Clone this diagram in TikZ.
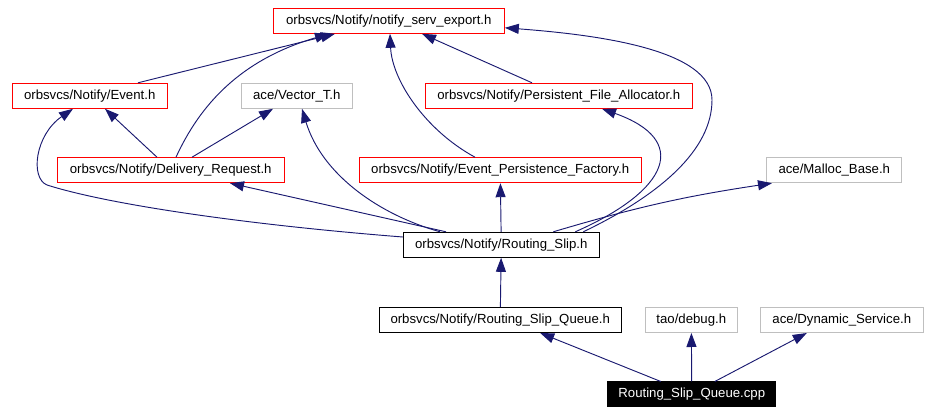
\documentclass[tikz,border=0pt]{standalone}
\usepackage{fontspec}
\setmainfont{Liberation Sans}
\usepackage{xcolor}
\definecolor{midnight}{HTML}{191970}
\definecolor{boxred}{HTML}{FF0000}
\definecolor{boxgray}{HTML}{BFBFBF}
\usepackage{tikz}
\usetikzlibrary{positioning,calc,arrows.meta}
\tikzstyle{headerfile}=[rectangle, draw=black, line width=0.75pt, inner xsep=2pt, inner ysep=0pt,
        minimum height=18.75pt, text=black, font=\fontsize{9.9pt}{12pt}\selectfont]
\tikzstyle{projectfile}=[headerfile, draw=boxred]
\tikzstyle{externfile}=[headerfile, draw=boxgray]
\tikzstyle{sourcefile}=[headerfile, fill=black, text=white]
\tikzstyle{includeLine}=[draw=midnight, line width=0.7pt, -{Triangle[length=10.5pt,width=7.5pt]}]

\begin{document}
\begin{tikzpicture}[x=0.75pt, y=-0.75pt]
\useasboundingbox (0,0) rectangle (929,413);

\node (export) [projectfile, minimum width=173.25pt] at (388.8,20.8) {orbsvcs/Notify/notify\_serv\_export.h};
\node (Event) [projectfile, minimum width=116pt] at (89.7,95.8) {orbsvcs/Notify/Event.h};
\node (Vector) [externfile, minimum width=83.25pt] at (296.8,95.8) {ace/Vector\_T.h};
\node (Allocator) [projectfile, minimum width=200.25pt] at (558.8,95.8) {orbsvcs/Notify/Persistent\_File\_Allocator.h};
\node (Delivery) [projectfile, minimum width=170pt] at (170.7,170.2) {orbsvcs/Notify/Delivery\_Request.h};
\node (Factory) [projectfile, minimum width=211.7pt] at (500.2,170.2) {orbsvcs/Notify/Event\_Persistence\_Factory.h};
\node (Malloc) [externfile, minimum width=101pt] at (834.3,170.2) {ace/Malloc\_Base.h};
\node (Slip) [headerfile, minimum width=147pt] at (501.3,244.8) {orbsvcs/Notify/Routing\_Slip.h};
\node (SlipQueue) [headerfile, minimum width=181.3pt] at (500.2,320) {orbsvcs/Notify/Routing\_Slip\_Queue.h};
\node (debug) [externfile, minimum width=69pt] at (691.3,320) {tao/debug.h};
\node (Service) [externfile, minimum width=122.25pt] at (841.8,320) {ace/Dynamic\_Service.h};
\node (Source) [sourcefile, minimum width=125.8pt] at (691.8,394.5) {Routing\_Slip\_Queue.cpp};

\draw[includeLine] ($(Event.north)+(48.3,0)$) -- ($(export.south)+(-53.8,0)$);
\draw[includeLine] ($(Delivery.north)+(5.3,0)$) .. controls (200,105) and (240,60) .. ($(export.south)+(-59.8,0)$);
\draw[includeLine] ($(Delivery.north)+(-13.7,0)$) -- ($(Event.south)+(15.3,0)$);
\draw[includeLine] ($(Delivery.north)+(21.3,0)$) -- ($(Vector.south)+(-23.8,0)$);
\draw[includeLine] ($(Factory.north)+(-25.2,0)$) .. controls (425,130) and (392,80) .. ($(export.south)+(1.2,0)$);
\draw[includeLine] ($(Allocator.north)+(-26.8,0)$) -- ($(export.south)+(33.2,0)$);

\draw[includeLine] ($(Slip.west)+(0,-7.8)$) .. controls (250,225) and (110,205) .. (47,185)
    .. controls (30,178) and (35,135) .. ($(Event.south)+(-16.7,0)$);
\draw[includeLine] ($(Slip.north)+(-55.3,0)$) -- ($(Delivery.south)+(59.3,0)$);
\draw[includeLine] ($(Slip.north)+(-61.3,0)$) .. controls (380,215) and (322,175) .. ($(Vector.south)+(5.2,0)$);
\draw[includeLine] (Slip) -- (Factory);
\draw[includeLine] ($(Slip.north)+(74,0)$) .. controls (670,190) and (690,140) .. ($(Allocator.south)+(43.2,0)$);
\draw[includeLine] ($(Slip.north)+(82,0)$) .. controls (660,195) and (712,150) .. (712,100)
    .. controls (712,50) and (600,35) .. ($(export.east)+(0,7)$);
\draw[includeLine] ($(Slip.north)+(52,0)$) to[bend left=4] ($(Malloc.south)+(-62.3,0)$);

\draw[includeLine] (SlipQueue) -- (Slip);
\draw[includeLine] ($(Source.north)+(-31,0)$) -- ($(SlipQueue.south)+(40,0)$);
\draw[includeLine] (Source) -- (debug);
\draw[includeLine] ($(Source.north)+(23,0)$) -- ($(Service.south)+(-35,0)$);

\end{tikzpicture}
\end{document}
